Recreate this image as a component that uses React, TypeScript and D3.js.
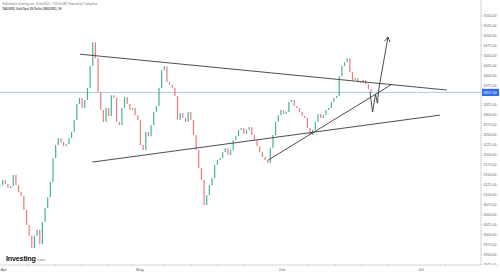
import React from 'react';
import * as d3 from 'd3';

const W = 500;
const H = 273;

// closes of the bars (each bar = half a trading-day slot)
const closes = [
  3124, 3137, 3127, 3117, 3122, 3150, 3124, 3107, 3097, 3062,
  3024, 2997, 2966, 2997, 3012, 2976, 3032, 3067, 3094, 3132,
  3192, 3225, 3242, 3232, 3222, 3227, 3242, 3258, 3288, 3328,
  3343, 3318, 3338, 3368, 3423, 3483, 3443, 3358, 3313, 3283,
  3318, 3298, 3350, 3343, 3283, 3275, 3318, 3345, 3328, 3313,
  3318, 3300, 3288, 3225, 3212, 3258, 3247, 3275, 3308, 3323,
  3368, 3413, 3423, 3383, 3376, 3368, 3348, 3288, 3305, 3293,
  3283, 3308, 3288, 3250, 3212, 3167, 3137, 3074, 3099, 3124,
  3142, 3175, 3187, 3192, 3207, 3217, 3200, 3212, 3237, 3247,
  3263, 3268, 3253, 3263, 3270, 3250, 3237, 3222, 3207, 3195,
  3187, 3180, 3217, 3250, 3283, 3300, 3313, 3303, 3308, 3333,
  3338, 3323, 3318, 3308, 3298, 3293, 3268, 3250, 3263, 3283,
  3303, 3293, 3300, 3313, 3318, 3333, 3343, 3348, 3398, 3423,
  3433, 3443, 3408, 3388, 3393, 3383, 3381, 3388, 3378, 3365,
  3357,
];
const barStep = 0.5;

const priceTicks = [
  2925, 2950, 2975, 3000, 3025, 3050, 3075, 3100, 3125, 3150, 3175, 3200,
  3225, 3250, 3275, 3300, 3325, 3375, 3400, 3425, 3450, 3475, 3500, 3525, 3550,
];
const currentPrice = 3357;

const monthLabels = ['Apr', 'May', 'Jun', 'Jul'];
const monthPos = [0.7, 26.4, 53.2, 79.4];
const weekTicks = [5.3, 10.4, 15.5, 20.2, 25.1, 31.1, 36.2, 41.1, 46.2, 58.1, 63.2, 68.3, 73.2, 84.0];

const upperLine: [number, number][] = [[15.1, 3453], [84.3, 3363]];
const lowerLine: [number, number][] = [[17.4, 3182], [83.0, 3300]];
const risingLine: [number, number][] = [[50.6, 3187], [74.0, 3378]];
const projection: [number, number][] = [
  [69.8, 3358], [70.3, 3308], [70.85, 3353], [71.2, 3330], [71.5, 3368], [73.2, 3496],
];

const titleLine1 = 'Published on Investing.com, 19/Jun/2025 - 7:24:36 GMT, Powered by TradingView.';
const titleLine2 = 'XAU/USD, Gold Spot US Dollar (XAU/USD), 1H';

export default function App() {
  const plotRight = 481;
  const axisY = 265;
  const x = d3.scaleLinear().domain([0, 90.75]).range([0, plotRight]);
  const y = d3.scaleLinear().domain([2925, 3550]).range([264.4, 15.6]);
  const font = '"Liberation Sans", Arial, sans-serif';
  const line = d3.line<[number, number]>().x(d => x(d[0])).y(d => y(d[1]));

  const last = projection[projection.length - 1];
  const prev = projection[projection.length - 2];
  const ax = x(last[0]), ay = y(last[1]);
  const ang = Math.atan2(ay - y(prev[1]), ax - x(prev[0]));
  const aLen = 5.5, aSpread = 0.55;
  const wing1 = [ax - aLen * Math.cos(ang - aSpread), ay - aLen * Math.sin(ang - aSpread)];
  const wing2 = [ax - aLen * Math.cos(ang + aSpread), ay - aLen * Math.sin(ang + aSpread)];

  return (
    <svg width={W} height={H} style={{ position: 'fixed', left: 0, top: 0, background: '#fff' }}
      fontFamily={font}>
      <rect x={0} y={0} width={W} height={H} fill="#fff" />
      {/* current price line */}
      <line x1={0} x2={plotRight} y1={y(currentPrice)} y2={y(currentPrice)} stroke="#9dbbe8" strokeWidth={0.8} />
      {/* candles */}
      {closes.map((c, i) => {
        const o = i > 0 ? closes[i - 1] : c;
        const up = c >= o;
        const cx = x(i * barStep);
        const y1 = y(Math.max(o, c));
        const y2 = y(Math.min(o, c));
        return (
          <rect key={i} x={cx - 0.6} width={1.2} y={y1} height={Math.max(0.7, y2 - y1)}
            fill={up ? '#45b393' : '#ee7880'} />
        );
      })}
      {/* trend lines */}
      <path d={line(upperLine) || ''} stroke="#3a3a3a" strokeWidth={0.9} fill="none" />
      <path d={line(lowerLine) || ''} stroke="#3a3a3a" strokeWidth={0.9} fill="none" />
      <path d={line(risingLine) || ''} stroke="#3a3a3a" strokeWidth={0.9} fill="none" />
      <path d={line(projection) || ''} stroke="#3a3a3a" strokeWidth={0.9} fill="none" />
      <path d={`M${wing1[0]},${wing1[1]}L${ax},${ay}L${wing2[0]},${wing2[1]}`} stroke="#3a3a3a" strokeWidth={0.9} fill="none" />

      {/* right axis */}
      <line x1={plotRight} x2={plotRight} y1={0} y2={axisY} stroke="#b8b8b8" strokeWidth={0.6} />
      {priceTicks.map(p => (
        <g key={p}>
          <line x1={plotRight} x2={plotRight + 1.5} y1={y(p)} y2={y(p)} stroke="#b8b8b8" strokeWidth={0.5} />
          <text x={plotRight + 2.5} y={y(p)} dy="0.35em" fontSize={3.6} fill="#666">{p.toFixed(2)}</text>
        </g>
      ))}
      <rect x={plotRight + 1} y={y(currentPrice) - 3.6} width={17} height={7.2} fill="#2f6ee8" />
      <text x={plotRight + 2.5} y={y(currentPrice)} dy="0.35em" fontSize={3.6} fill="#fff">{currentPrice.toFixed(2)}</text>

      {/* bottom axis */}
      <rect x={0} y={axisY} width={W} height={H - axisY} fill="#fff" />
      <line x1={0} x2={plotRight} y1={axisY} y2={axisY} stroke="#b8b8b8" strokeWidth={0.6} />
      {weekTicks.map((t, i) => (
        <line key={i} x1={x(t)} x2={x(t)} y1={axisY - 1} y2={axisY + 1.2} stroke="#b8b8b8" strokeWidth={0.5} />
      ))}
      {monthLabels.map((m, i) => (
        <text key={m} x={x(monthPos[i])} y={270} dy="0.35em" textAnchor="middle" fontSize={4.2} fill="#666">{m}</text>
      ))}

      {/* title */}
      <text x={2.5} y={5} fontSize={2.6} fill="#777">{titleLine1}</text>
      <text x={2.5} y={10} fontSize={2.7} fontWeight="bold" fill="#555">{titleLine2}</text>

      {/* logo */}
      <text x={6} y={260.5} fontSize={7.2} fontWeight="bold" fill="#111" letterSpacing={-0.2}>
        Investing<tspan fontSize={4.4} fontWeight="normal" fill="#888" dx={0.4}>.com</tspan>
      </text>
    </svg>
  );
}
